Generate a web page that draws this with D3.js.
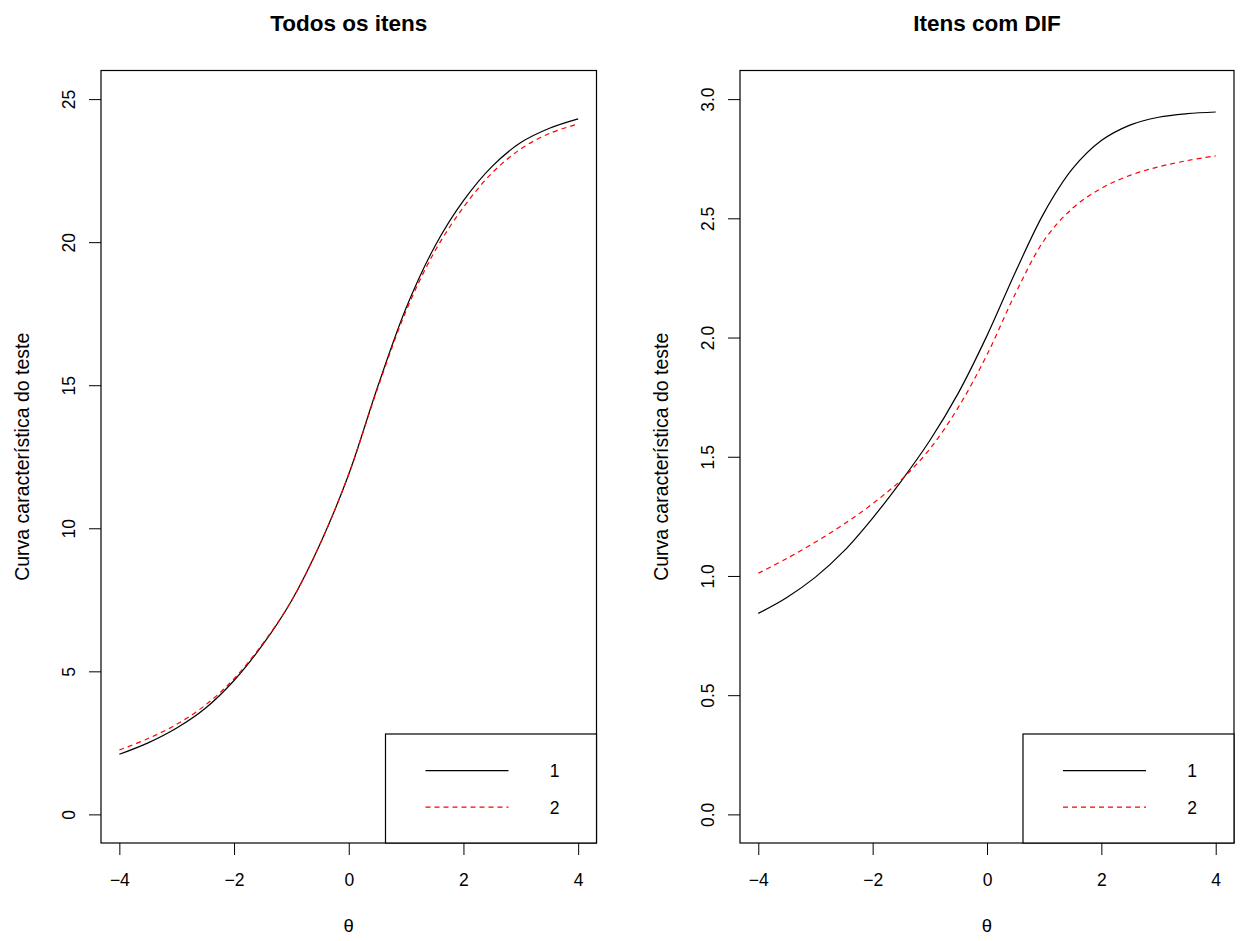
<!DOCTYPE html>
<html>
<head>
<meta charset="utf-8">
<script src="https://cdn.jsdelivr.net/npm/d3@7"></script>
<style>
  html, body { margin: 0; padding: 0; background: #fff; }
  svg { display: block; font-family: "Liberation Sans", Arial, Helvetica, sans-serif; }
</style>
</head>
<body>
<svg id="chart" width="1240" height="941"></svg>
<script>
// Ability grid (theta) shared by both panels
const theta = [-4, -3.5, -3, -2.5, -2, -1.5, -1, -0.5, 0, 0.5, 1, 1.5, 2, 2.5, 3, 3.5, 4];

// Test characteristic curve, all items, per group
const allItemsGroup1 = [2.10, 2.50, 3.02, 3.71, 4.68, 5.93, 7.46, 9.45, 11.89, 14.92, 17.7, 19.85, 21.45, 22.65, 23.48, 23.98, 24.31];
const allItemsGroup2 = [2.25, 2.65, 3.15, 3.82, 4.74, 5.97, 7.46, 9.45, 11.89, 14.87, 17.6, 19.68, 21.22, 22.42, 23.26, 23.8, 24.13];

// Test characteristic curve, DIF items only, per group
const difGroup1 = [0.843, 0.91, 0.995, 1.105, 1.243, 1.398, 1.568, 1.768, 2.008, 2.276, 2.524, 2.709, 2.826, 2.891, 2.924, 2.939, 2.946];
const difGroup2 = [1.011, 1.0735, 1.142, 1.218, 1.303, 1.403, 1.533, 1.708, 1.928, 2.186, 2.408, 2.543, 2.626, 2.680, 2.716, 2.742, 2.762];

// Axis tick values
const xTicks = [-4, -2, 0, 2, 4];
const yTicksAll = [0, 5, 10, 15, 20, 25];
const yTicksDif = [0, 0.5, 1, 1.5, 2, 2.5, 3];

const groupLabels = ["1", "2"];
const panelTitles = ["Todos os itens", "Itens com DIF"];
const yTitle = "Curva característica do teste";
const xTitle = "θ";

const panels = [
  { title: panelTitles[0], left: 101, right: 596.5, series: [allItemsGroup1, allItemsGroup2],
    ylim: [0, 25], yTicks: yTicksAll, yFmt: d3.format("d") },
  { title: panelTitles[1], left: 740, right: 1234, series: [difGroup1, difGroup2],
    ylim: [0, 3], yTicks: yTicksDif, yFmt: d3.format(".1f") }
];

const plotTop = 70.5, plotBottom = 843;
const styles = [
  { color: "#000000", dash: null, width: 1.2 },
  { color: "#ff0000", dash: "5,4", width: 1.2 }
];

const svg = d3.select("#chart");

// R-style 4% padding on both axes
function padded(lim) {
  const d = (lim[1] - lim[0]) * 0.04;
  return [lim[0] - d, lim[1] + d];
}

panels.forEach(p => {
  const x = d3.scaleLinear().domain(padded([-4, 4])).range([p.left, p.right]);
  const y = d3.scaleLinear().domain(padded(p.ylim)).range([plotBottom, plotTop]);
  const g = svg.append("g");

  // curves
  const line = d3.line()
    .x((d, i) => x(theta[i]))
    .y(d => y(d))
    .curve(d3.curveCatmullRom.alpha(0.5));

  p.series.forEach((s, k) => {
    g.append("path")
      .datum(s)
      .attr("d", line)
      .attr("fill", "none")
      .attr("stroke", styles[k].color)
      .attr("stroke-width", styles[k].width)
      .attr("stroke-dasharray", styles[k].dash);
  });

  // x axis
  const xAxis = g.append("g")
    .attr("transform", `translate(0,${plotBottom})`)
    .call(d3.axisBottom(x).tickValues(xTicks).tickSize(12).tickSizeOuter(0)
      .tickFormat(d => d < 0 ? "\u2212" + Math.abs(d) : String(d)));
  xAxis.select(".domain").remove();
  xAxis.selectAll("line").attr("stroke", "#000").attr("stroke-width", 1);
  xAxis.selectAll("text")
    .attr("y", 42.5).attr("dy", null)
    .attr("fill", "#000")
    .style("font-size", "17.5px")
    .style("font-family", "'Liberation Sans', Arial, sans-serif");

  // y axis with labels parallel to the axis
  const yAxis = g.append("g")
    .attr("transform", `translate(${p.left},0)`)
    .call(d3.axisLeft(y).tickValues(p.yTicks).tickSize(12).tickSizeOuter(0).tickFormat(p.yFmt));
  yAxis.select(".domain").remove();
  yAxis.selectAll("line").attr("stroke", "#000").attr("stroke-width", 1);
  yAxis.selectAll("text")
    .attr("x", null).attr("dy", null)
    .attr("text-anchor", "middle")
    .attr("transform", "translate(-26,0) rotate(-90)")
    .attr("fill", "#000")
    .style("font-size", "17.5px")
    .style("font-family", "'Liberation Sans', Arial, sans-serif");

  // plot box
  g.append("rect")
    .attr("x", p.left).attr("y", plotTop)
    .attr("width", p.right - p.left).attr("height", plotBottom - plotTop)
    .attr("fill", "none").attr("stroke", "#000").attr("stroke-width", 1.2);

  // title
  const cx = (p.left + p.right) / 2;
  g.append("text")
    .attr("x", cx).attr("y", 31)
    .attr("text-anchor", "middle")
    .style("font-size", "22.5px").style("font-weight", "bold")
    .text(p.title);

  // axis titles
  g.append("text")
    .attr("x", cx).attr("y", 932)
    .attr("text-anchor", "middle")
    .style("font-size", "18.5px")
    .text(xTitle);

  g.append("text")
    .attr("transform", `translate(${p.left - 72},${(plotTop + plotBottom) / 2}) rotate(-90)`)
    .attr("text-anchor", "middle")
    .style("font-size", "19.5px")
    .text(yTitle);

  // legend in the bottom-right corner
  const lw = 211, lh = 109;
  const lx = p.right - lw, ly = plotBottom - lh;
  const lg = g.append("g").attr("transform", `translate(${lx},${ly})`);
  lg.append("rect")
    .attr("width", lw).attr("height", lh)
    .attr("fill", "#fff").attr("stroke", "#000").attr("stroke-width", 1.2);
  groupLabels.forEach((lab, k) => {
    const yy = 36.7 + k * 36.5;
    lg.append("line")
      .attr("x1", 40).attr("x2", 123).attr("y1", yy).attr("y2", yy)
      .attr("stroke", styles[k].color)
      .attr("stroke-width", styles[k].width)
      .attr("stroke-dasharray", styles[k].dash);
    lg.append("text")
      .attr("x", 169).attr("y", yy).attr("dy", "0.36em")
      .attr("text-anchor", "middle")
      .style("font-size", "17.5px")
      .text(lab);
  });
});
</script>
</body>
</html>
